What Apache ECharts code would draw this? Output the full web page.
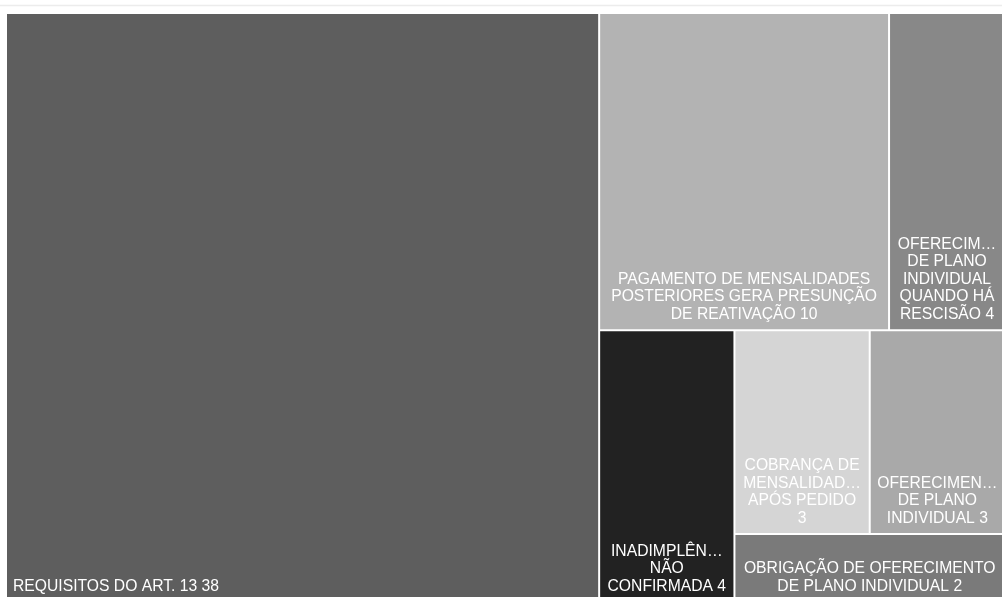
<!DOCTYPE html>
<html>
<head>
<meta charset="utf-8">
<script src="https://cdn.jsdelivr.net/npm/echarts@6/dist/echarts.min.js"></script>
<style>
  html, body { margin: 0; padding: 0; background: #fff; }
  #chart { width: 1002px; height: 597px; }
</style>
</head>
<body>
<div id="chart"></div>
<script>
// Topics and their counts
const categories = [
  'REQUISITOS DO ART. 13',
  'PAGAMENTO DE MENSALIDADES\nPOSTERIORES GERA PRESUNÇÃO\nDE REATIVAÇÃO',
  'OFERECIM…\nDE PLANO\nINDIVIDUAL\nQUANDO HÁ\nRESCISÃO',
  'INADIMPLÊN…\nNÃO\nCONFIRMADA',
  'COBRANÇA DE\nMENSALIDAD…\nAPÓS PEDIDO',
  'OFERECIMEN…\nDE PLANO\nINDIVIDUAL',
  'OBRIGAÇÃO DE OFERECIMENTO\nDE PLANO INDIVIDUAL'
];
const values = [38, 10, 4, 4, 3, 3, 2];
// whether the count goes on its own line under the name
const valueOnNewLine = [false, false, false, false, true, false, false];
const shades = ['#5e5e5e', '#b3b3b3', '#888888', '#222222', '#d5d5d5', '#a9a9a9', '#7a7a7a'];
// tiles that are laid out together
const blocks = [[0], [1, 2], [3, 4, 5, 6]];

function leaf(i) {
  const first = i === 0;
  return {
    name: categories[i],
    value: values[i],
    sep: valueOnNewLine[i] ? '\n' : ' ',
    itemStyle: { color: shades[i] },
    label: {
      position: first ? 'insideBottomLeft' : 'insideBottom',
      align: first ? 'left' : 'center'
    }
  };
}

const treeData = blocks.map(function (b) {
  if (b.length === 1) return leaf(b[0]);
  return {
    name: '',
    children: b.map(leaf),
    itemStyle: { borderWidth: 0, gapWidth: 0, borderColor: '#fff' }
  };
});

const chart = echarts.init(document.getElementById('chart'), null, { renderer: 'canvas' });
chart.setOption({
  animation: false,
  graphic: [{
    type: 'line',
    shape: { x1: 0, y1: 5.5, x2: 1002, y2: 5.5 },
    style: { stroke: '#ececec', lineWidth: 1.5 },
    silent: true
  }],
  series: [{
    type: 'treemap',
    left: 6, right: -3, top: 13, bottom: -5,
    squareRatio: 1,
    sort: false,
    roam: false,
    nodeClick: false,
    breadcrumb: { show: false },
    itemStyle: { borderWidth: 1, borderColor: '#fff', gapWidth: 0 },
    levels: [{ itemStyle: { borderWidth: 0, gapWidth: 0 } }],
    label: {
      show: true,
      color: '#fff',
      fontFamily: 'Liberation Sans, Arial, sans-serif',
      fontSize: 15.7,
      lineHeight: 17.5,
      align: 'center',
      distance: 0,
      padding: [0, 6, 6, 6],
      overflow: 'none',
      formatter: function (p) { return p.name + p.data.sep + p.value; }
    },
    emphasis: { disabled: true },
    data: treeData
  }]
});
</script>
</body>
</html>
